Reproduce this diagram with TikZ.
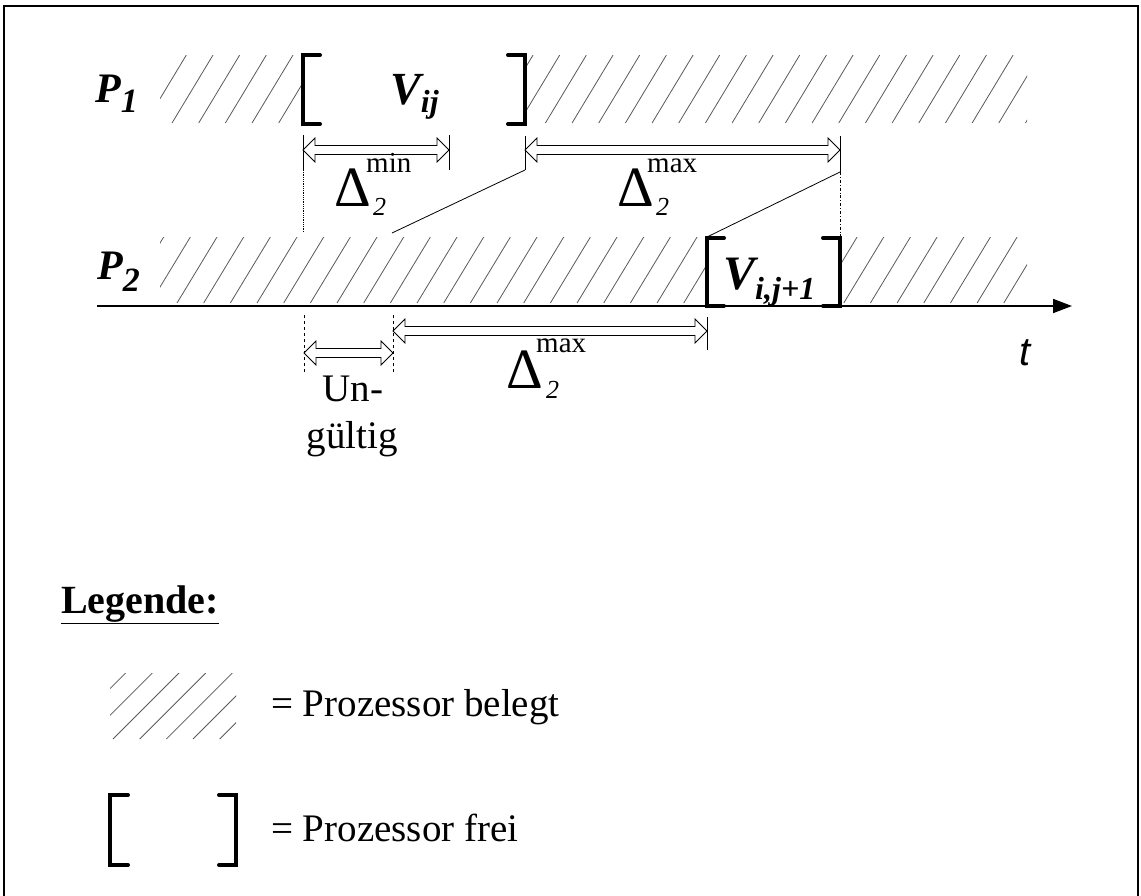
\documentclass[tikz,border=0pt]{standalone}
\usepackage{fontspec}
\setmainfont{Liberation Serif}
\newfontfamily\arialfont{Liberation Sans}
\usetikzlibrary{arrows.meta, calc}

\newcommand{\fsz}[1]{\fontsize{#1}{#1}\selectfont}

\begin{document}
\begin{tikzpicture}[x=1pt, y=-1pt,
    hatch/.style={black!65, line width=0.8pt},
    bracket/.style={line width=4pt, line cap=round},
    tick/.style={line width=0.8pt},
    lbl/.style={anchor=base west, inner sep=0pt},
    dimarrow/.style={draw, line width=0.8pt, to path={
      let \p1=(\tikztostart), \p2=(\tikztotarget) in
      (\x1,\y1) -- (\x1+12pt,\y1+12pt) -- (\x1+12pt,\y1+4.5pt) -- (\x2-12pt,\y2+4.5pt)
      -- (\x2-12pt,\y2+12pt) -- (\x2,\y2) -- (\x2-12pt,\y2-12pt) -- (\x2-12pt,\y2-4.5pt)
      -- (\x1+12pt,\y1-4.5pt) -- (\x1+12pt,\y1-12pt) -- cycle}}]

  \useasboundingbox (0,0) rectangle (1141,895);

  % frame
  \draw[line width=1.5pt] (4,900) -- (4,6) -- (1138,6) -- (1138,900);

  % P1: busy hatching
  \begin{scope}
    \clip (160,55) rectangle (302,123) (525,55) rectangle (1027,123);
    \foreach \x in {12,38.67,...,1030}
      \draw[hatch] (\x,123) -- ++(41,-68);
  \end{scope}

  % P2: busy hatching
  \begin{scope}
    \clip (160,237) rectangle (706,303) (840,237) rectangle (1027,303);
    \foreach \x in {17,43.67,...,1030}
      \draw[hatch] (\x,303) -- ++(40,-66);
  \end{scope}

  % free slots
  \draw[bracket] (320,55) -- (303,55) -- (303,124) -- (320,124);
  \draw[bracket] (508,55) -- (525,55) -- (525,124) -- (508,124);
  \draw[bracket] (724,238) -- (707,238) -- (707,306) -- (724,306);
  \draw[bracket] (823,238) -- (840,238) -- (840,306) -- (823,306);

  % row labels
  \node[lbl, font=\fsz{42}\bfseries\itshape] (p1) at (95,102) {P\raisebox{-10pt}{\fsz{34}1}};
  \node[lbl, font=\fsz{42}\bfseries\itshape] (p2) at (97,279) {P\raisebox{-12pt}{\fsz{34}2}};
  \node[lbl, font=\fsz{46}\bfseries\itshape] (vij) at (390,104) {V\raisebox{-8pt}{\fsz{32}ij}};
  \node[lbl, font=\fsz{48}\bfseries\itshape] (vij1) at (723,289) {V\raisebox{-10pt}{\fsz{32}i,j+1}};

  % time axis
  \coordinate (o) at (97,306);
  \coordinate (tend) at (1072,306);
  \draw[line width=1.8pt, -{Triangle[length=19pt, width=14pt]}] (o) -- (tend);
  \node[lbl, font=\arialfont\itshape\fsz{40}] (t) at (1019,365) {t};

  % upper dimensions
  \coordinate (minL) at (303,150);
  \coordinate (minR) at (449,150);
  \coordinate (maxL) at (525,150);
  \coordinate (maxR) at (840,150);
  \draw[tick] (303,135) -- (303,170);
  \draw[tick, densely dotted] (303,170) -- (303,232);
  \draw[tick] (449,135) -- (449,170);
  \draw[tick] (525,136) -- (525,170);
  \draw[tick] (840,136) -- (840,172);
  \draw[tick, dash dot] (840,172) -- (840,236);
  \draw[tick] (525,170) -- (392,233);
  \draw[tick] (840,172) -- (707,237);
  \draw[dimarrow] (minL) to (minR);
  \draw[dimarrow] (maxL) to (maxR);

  \node[lbl, font=\fsz{57}] (dmin) at (334,206) {Δ};
  \node[lbl, font=\fsz{29}] (dminup) at (366,172) {min};
  \node[lbl, font=\fsz{26}\itshape] (dminlo) at (373,215) {2};
  \node[lbl, font=\fsz{57}] (dmax) at (617,206) {Δ};
  \node[lbl, font=\fsz{29}] (dmaxup) at (647,172) {max};
  \node[lbl, font=\fsz{26}\itshape] (dmaxlo) at (656,215) {2};

  % lower dimensions
  \coordinate (ungL) at (304,353);
  \coordinate (ungR) at (393,353);
  \coordinate (bmaxL) at (393,331);
  \coordinate (bmaxR) at (707,331);
  \draw[tick, dashed] (304,315) -- (304,373);
  \draw[tick, dashed] (393,315) -- (393,373);
  \draw[tick] (707,317) -- (707,350);
  \draw[dimarrow] (ungL) to (ungR);
  \draw[dimarrow] (bmaxL) to (bmaxR);

  \node[anchor=base, inner sep=0pt, font=\fsz{39}] (ung1) at (353,401) {Un-};
  \node[anchor=base, inner sep=0pt, font=\fsz{39}] (ung2) at (352,448) {gültig};

  \node[lbl, font=\fsz{57}] (bmax) at (506,388) {Δ};
  \node[lbl, font=\fsz{29}] (bmaxup) at (536,352) {max};
  \node[lbl, font=\fsz{26}\itshape] (bmaxlo) at (546,398) {2};

  % legend
  \node[lbl, font=\fsz{40}\bfseries] (leg) at (61,613) {\underline{Legende:}};

  \begin{scope}
    \clip (110,673) rectangle (236,739);
    \foreach \x in {33,59.67,...,240}
      \draw[hatch] (\x,739) -- ++(66,-66);
  \end{scope}
  \node[lbl, font=\fsz{39}] (busy) at (271,716) {= Prozessor belegt};

  \draw[bracket] (128,795) -- (110,795) -- (110,865) -- (128,865);
  \draw[bracket] (219,795) -- (236,795) -- (236,865) -- (219,865);
  \node[lbl, font=\fsz{39}] (free) at (271,841) {= Prozessor frei};

\end{tikzpicture}
\end{document}
